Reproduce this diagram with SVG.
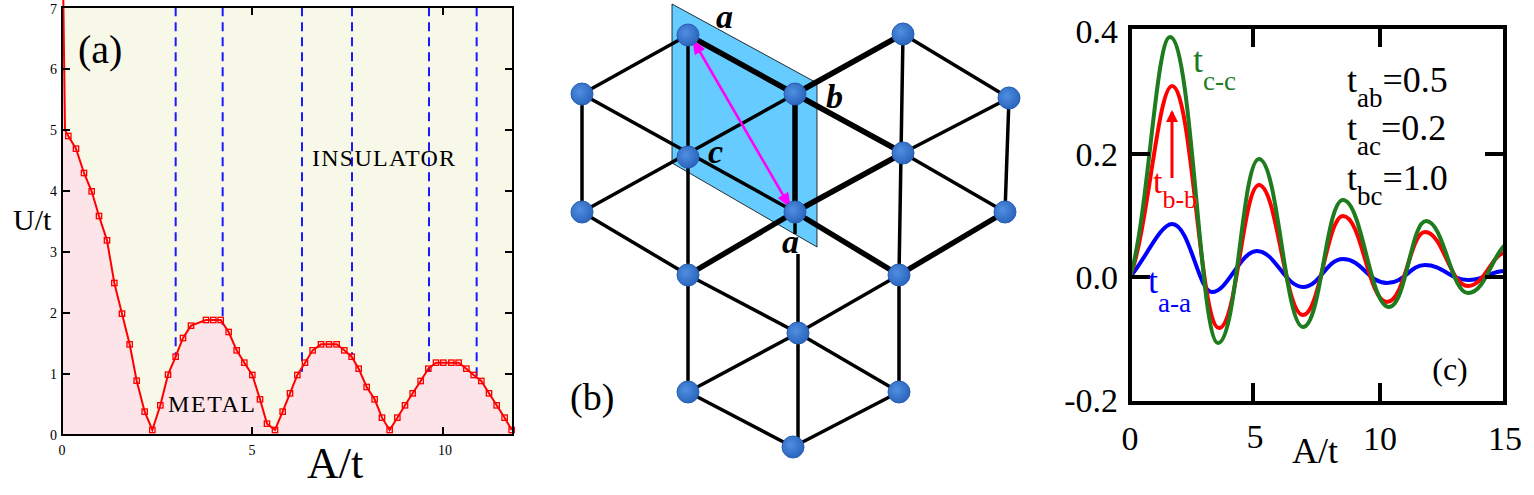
<svg xmlns="http://www.w3.org/2000/svg" width="1534" height="495" viewBox="0 0 1534 495">
<style>
.ser{font-family:"Liberation Serif",serif}
.tk{stroke:#000;stroke-width:2}
.dash{stroke:#1a1aff;stroke-width:2;stroke-dasharray:9,6}
.sq{fill:none;stroke:#ff0000;stroke-width:1.3}
.ed{stroke:#000;stroke-width:3.5;fill:none}
.th{stroke-width:5.5}
.nd{fill:url(#ng);stroke:#2a5fb0;stroke-width:1}
.lb{font-family:"Liberation Serif",serif;font-weight:bold;font-style:italic;font-size:34px}
.ctk{stroke:#000;stroke-width:4}
.cv{fill:none;stroke-width:4}
</style>
<defs>
<radialGradient id="ng" cx="0.4" cy="0.4" r="0.6"><stop offset="0" stop-color="#4f8fe0"/><stop offset="1" stop-color="#2c66bf"/></radialGradient>
<marker id="mh" markerWidth="16" markerHeight="12" refX="14" refY="6" orient="auto-start-reverse" markerUnits="userSpaceOnUse"><path d="M0,0 L16,6 L0,12 Z" fill="#ff00ff"/></marker>
<marker id="rh" markerWidth="12" markerHeight="14" refX="10" refY="6" orient="auto" markerUnits="userSpaceOnUse"><path d="M0,0 L12,6 L0,12 Z" fill="#ff0000"/></marker>
</defs>
<rect width="1534" height="495" fill="#fff"/>

<!-- Panel a -->
<g id="panel-a">
<rect x="62" y="7" width="451" height="428" fill="#f8f8e8"/>
<g transform="scale(0.33333)">
<path d="M190,0 L195,390 L205,408 L228,446 L252,519 L275,574 L297,648 L321,721 L343,849 L366,941 L389,1033 L410,1142 L434,1235 L457,1290 L481,1216 L504,1124 L527,1070 L549,1014 L573,977 L618,960 L640,960 L662,960 L686,996 L710,1051 L733,1088 L757,1125 L780,1198 L801,1271 L825,1290 L848,1235 L870,1180 L892,1125 L915,1088 L938,1051 L963,1033 L987,1033 L1010,1033 L1033,1051 L1055,1070 L1076,1106 L1100,1161 L1124,1198 L1146,1253 L1169,1290 L1192,1253 L1215,1216 L1238,1180 L1262,1143 L1285,1106 L1308,1088 L1330,1088 L1354,1088 L1376,1088 L1399,1106 L1421,1125 L1444,1143 L1467,1180 L1490,1216 L1514,1253 L1535,1290 L1538,1305 L186,1305 L186,0 Z" fill="#fde4e8"/>
<g class="dash" style="stroke-width:6;stroke-dasharray:27,18">
<line x1="527" y1="22" x2="527" y2="1070"/><line x1="668" y1="22" x2="668" y2="975"/>
<line x1="906" y1="22" x2="906" y2="1115"/><line x1="1056" y1="22" x2="1056" y2="1065"/>
<line x1="1287" y1="22" x2="1287" y2="1115"/><line x1="1430" y1="22" x2="1430" y2="1140"/>
</g>
<path d="M190,0 L195,390 L205,408 L228,446 L252,519 L275,574 L297,648 L321,721 L343,849 L366,941 L389,1033 L410,1142 L434,1235 L457,1290 L481,1216 L504,1124 L527,1070 L549,1014 L573,977 L618,960 L640,960 L662,960 L686,996 L710,1051 L733,1088 L757,1125 L780,1198 L801,1271 L825,1290 L848,1235 L870,1180 L892,1125 L915,1088 L938,1051 L963,1033 L987,1033 L1010,1033 L1033,1051 L1055,1070 L1076,1106 L1100,1161 L1124,1198 L1146,1253 L1169,1290 L1192,1253 L1215,1216 L1238,1180 L1262,1143 L1285,1106 L1308,1088 L1330,1088 L1354,1088 L1376,1088 L1399,1106 L1421,1125 L1444,1143 L1467,1180 L1490,1216 L1514,1253 L1535,1290" fill="none" stroke="#ff0000" stroke-width="6"/>
<g class="sq" style="stroke-width:4">
<rect x="197" y="400" width="16" height="16"/><rect x="220" y="438" width="16" height="16"/><rect x="244" y="511" width="16" height="16"/><rect x="267" y="566" width="16" height="16"/><rect x="289" y="640" width="16" height="16"/><rect x="313" y="713" width="16" height="16"/><rect x="335" y="841" width="16" height="16"/><rect x="358" y="933" width="16" height="16"/><rect x="381" y="1025" width="16" height="16"/><rect x="402" y="1134" width="16" height="16"/><rect x="426" y="1227" width="16" height="16"/><rect x="449" y="1282" width="16" height="16"/><rect x="473" y="1208" width="16" height="16"/><rect x="496" y="1116" width="16" height="16"/><rect x="519" y="1062" width="16" height="16"/><rect x="541" y="1006" width="16" height="16"/><rect x="565" y="969" width="16" height="16"/><rect x="610" y="952" width="16" height="16"/><rect x="632" y="952" width="16" height="16"/><rect x="654" y="952" width="16" height="16"/><rect x="678" y="988" width="16" height="16"/><rect x="702" y="1043" width="16" height="16"/><rect x="725" y="1080" width="16" height="16"/><rect x="749" y="1117" width="16" height="16"/><rect x="772" y="1190" width="16" height="16"/><rect x="793" y="1263" width="16" height="16"/><rect x="817" y="1282" width="16" height="16"/><rect x="840" y="1227" width="16" height="16"/><rect x="862" y="1172" width="16" height="16"/><rect x="884" y="1117" width="16" height="16"/><rect x="907" y="1080" width="16" height="16"/><rect x="930" y="1043" width="16" height="16"/><rect x="955" y="1025" width="16" height="16"/><rect x="979" y="1025" width="16" height="16"/><rect x="1002" y="1025" width="16" height="16"/><rect x="1025" y="1043" width="16" height="16"/><rect x="1047" y="1062" width="16" height="16"/><rect x="1068" y="1098" width="16" height="16"/><rect x="1092" y="1153" width="16" height="16"/><rect x="1116" y="1190" width="16" height="16"/><rect x="1138" y="1245" width="16" height="16"/><rect x="1161" y="1282" width="16" height="16"/><rect x="1184" y="1245" width="16" height="16"/><rect x="1207" y="1208" width="16" height="16"/><rect x="1230" y="1172" width="16" height="16"/><rect x="1254" y="1135" width="16" height="16"/><rect x="1277" y="1098" width="16" height="16"/><rect x="1300" y="1080" width="16" height="16"/><rect x="1322" y="1080" width="16" height="16"/><rect x="1346" y="1080" width="16" height="16"/><rect x="1368" y="1080" width="16" height="16"/><rect x="1391" y="1098" width="16" height="16"/><rect x="1413" y="1117" width="16" height="16"/><rect x="1436" y="1135" width="16" height="16"/><rect x="1459" y="1172" width="16" height="16"/><rect x="1482" y="1208" width="16" height="16"/><rect x="1506" y="1245" width="16" height="16"/><rect x="1527" y="1282" width="16" height="16"/>
</g>
</g>
<rect x="62" y="7" width="451" height="428" fill="none" stroke="#000" stroke-width="2"/>
<g class="tk">
<path d="M62,374 h8 M62,313 h8 M62,252 h8 M62,191 h8 M62,130 h8 M62,69 h8 M513,374 h-8 M513,313 h-8 M513,252 h-8 M513,191 h-8 M513,130 h-8 M513,69 h-8 M252,435 v-8 M443,435 v-8 M252,7 v8 M443,7 v8"/>
</g>
<g class="ser" font-size="14" text-anchor="end">
<text x="57" y="440">0</text><text x="57" y="379">1</text><text x="57" y="318">2</text><text x="57" y="257">3</text><text x="57" y="196">4</text><text x="57" y="135">5</text><text x="57" y="74">6</text><text x="57" y="14">7</text>
</g>
<g class="ser" font-size="14" text-anchor="middle">
<text x="62" y="455">0</text><text x="252" y="455">5</text><text x="445" y="455">10</text>
</g>
<text class="ser" x="13" y="230" font-size="30">U/t</text>
<text class="ser" x="335" y="478" font-size="44" text-anchor="middle">A/t</text>
<text class="ser" x="78" y="63" font-size="40">(a)</text>
<text class="ser" x="312" y="166" font-size="24" textLength="143">INSULATOR</text>
<text class="ser" x="168" y="412" font-size="24" textLength="87">METAL</text>
</g>

<!-- Panel b -->
<g id="plane"><polygon points="672,4 817,83 817,247 672,163" fill="#66ccff" stroke="#000" stroke-width="0.8"/></g>
<g id="connectors">
<path class="ed" d="M688,35 L582,94 M688,35 V392 M582,94 V212 M582,94 L795,212 M795,94 L582,212 M903,34 L1009,98 M903,34 L899,275 M1009,98 L903,153 M1009,98 L1005,212 M903,153 L1005,212 M582,212 L688,275 M795,212 L899,275 M688,275 L798,333 M899,275 L798,333 M798,333 V447 M798,333 L688,392 M798,333 L899,392 M899,275 V392 M688,392 L793,447 M899,392 L793,447 M795,212 V234 M798,254 V333"/>
<path class="ed th" d="M688,35 L795,94 L903,153 M795,94 L903,34 M795,94 V212 M903,153 L795,212 L688,275 M1005,212 L899,275 M795,212 L899,275"/>
<line x1="693" y1="40" x2="790" y2="207" stroke="#ff00ff" stroke-width="2.5" marker-start="url(#mh)" marker-end="url(#mh)"/>
</g>
<g id="nodes">
<g id="n1"><circle class="nd" cx="688" cy="35" r="11"/></g>
<g id="n2"><circle class="nd" cx="582" cy="94" r="11"/></g>
<g id="n3"><circle class="nd" cx="795" cy="94" r="11"/></g>
<g id="n4"><circle class="nd" cx="903" cy="34" r="11"/></g>
<g id="n5"><circle class="nd" cx="1009" cy="98" r="11"/></g>
<g id="n6"><circle class="nd" cx="688" cy="157" r="11"/></g>
<g id="n7"><circle class="nd" cx="903" cy="153" r="11"/></g>
<g id="n8"><circle class="nd" cx="582" cy="212" r="11"/></g>
<g id="n9"><circle class="nd" cx="795" cy="212" r="11"/></g>
<g id="n10"><circle class="nd" cx="1005" cy="212" r="11"/></g>
<g id="n11"><circle class="nd" cx="688" cy="275" r="11"/></g>
<g id="n12"><circle class="nd" cx="899" cy="275" r="11"/></g>
<g id="n13"><circle class="nd" cx="798" cy="333" r="11"/></g>
<g id="n14"><circle class="nd" cx="688" cy="392" r="11"/></g>
<g id="n15"><circle class="nd" cx="899" cy="392" r="11"/></g>
<g id="n16"><circle class="nd" cx="793" cy="447" r="11"/></g>
</g>
<g id="blabels">
<text class="lb" x="716" y="28">a</text>
<text class="lb" x="826" y="108">b</text>
<text class="lb" x="708" y="163">c</text>
<text class="lb" x="782" y="253">a</text>
<text class="ser" x="570" y="410" font-size="38">(b)</text>
</g>

<!-- Panel c -->
<g id="panel-c">
<path class="cv" stroke="#0000ff" d="M1130,277 C1145,260 1160,224 1172,224 C1190,224 1198,292 1212,292 C1228,292 1240,251 1257,251 C1275,251 1285,287 1303,287 C1320,287 1326,259 1343,259 C1362,259 1368,283 1387,283 C1405,283 1410,265 1425,265 C1443,265 1450,280 1468,280 C1485,280 1490,271 1505,271"/>
<path class="cv" stroke="#ff0000" d="M1130,277 C1148,230 1158,86 1172,86 C1192,86 1200,328 1219,328 C1237,328 1243,185 1259,185 C1277,185 1285,315 1303,315 C1320,315 1327,216 1343,216 C1362,216 1368,302 1387,302 C1405,302 1410,232 1425,232 C1443,232 1450,286 1468,286 C1485,286 1492,253 1505,253"/>
<path class="cv" stroke="#1e7b1e" d="M1130,277 C1148,220 1156,37 1170,37 C1192,37 1200,343 1218,343 C1237,343 1242,159 1259,159 C1278,159 1285,327 1303,327 C1321,327 1326,200 1343,200 C1362,200 1370,307 1389,307 C1406,307 1411,221 1426,221 C1444,221 1451,293 1468,293 C1485,293 1492,256 1505,245"/>
<rect x="1130" y="27" width="375" height="376" fill="none" stroke="#000" stroke-width="4"/>
<path class="ctk" d="M1130,154 h20 M1130,277 h20 M1505,154 h-20 M1505,277 h-20 M1253,403 v-20 M1380,403 v-20 M1253,27 v20 M1380,27 v20"/>
<g class="ser" font-size="34" text-anchor="end">
<text x="1118" y="43">0.4</text><text x="1118" y="166">0.2</text><text x="1118" y="289">0.0</text><text x="1118" y="412">-0.2</text>
</g>
<g class="ser" font-size="34" text-anchor="middle">
<text x="1130" y="450">0</text><text x="1255" y="448">5</text><text x="1380" y="450">10</text><text x="1505" y="450">15</text>
</g>
<text class="ser" x="1315" y="463" font-size="36" text-anchor="middle">A/t</text>
<text class="ser" x="1450" y="380" font-size="32" text-anchor="middle">(c)</text>
<text class="ser" x="1193" y="72" font-size="36" fill="#1e7b1e">t<tspan font-size="27" dy="18">c-c</tspan></text>
<line x1="1172" y1="178" x2="1172" y2="112" stroke="#ff0000" stroke-width="3" marker-end="url(#rh)"/>
<text class="ser" x="1153" y="193" font-size="34" fill="#ff0000">t<tspan font-size="26" dy="15">b-b</tspan></text>
<text class="ser" x="1148" y="293" font-size="36" fill="#0000ff">t<tspan font-size="27" dy="19">a-a</tspan></text>
<g class="ser" font-size="36">
<text x="1347" y="92">t<tspan font-size="27" dy="15">ab</tspan><tspan dy="-15">=0.5</tspan></text>
<text x="1347" y="140">t<tspan font-size="27" dy="15">ac</tspan><tspan dy="-15">=0.2</tspan></text>
<text x="1347" y="190">t<tspan font-size="27" dy="15">bc</tspan><tspan dy="-15">=1.0</tspan></text>
</g>
</g>
</svg>
